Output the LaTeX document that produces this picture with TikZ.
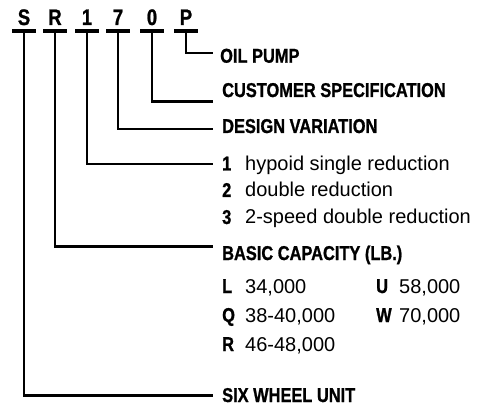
\documentclass[tikz,border=0pt]{standalone}
\usepackage{fontspec}
\setmainfont{Liberation Sans}
\newfontfamily\condbf{Liberation Sans Bold}[FakeStretch=0.82, FakeBold=1]
\usetikzlibrary{calc}
\newcommand\keyof[1]{\makebox[23pt][l]{\condbf\fontsize{20}{22}\selectfont #1}}

\begin{document}
\begin{tikzpicture}[x=1pt, y=-1pt,
	code/.style={font=\condbf\fontsize{22.5}{23}\selectfont, anchor=base, inner sep=0pt, minimum width=23pt, text depth=5.5pt},
	head/.style={font=\condbf\fontsize{20}{22}\selectfont, anchor=base west, inner sep=0pt},
	item/.style={font=\fontsize{20}{22}\selectfont, anchor=base west, inner sep=0pt},
	bar/.style={line width=3.8pt},
	lead/.style={line width=2.9pt}]
	\useasboundingbox (0,0) rectangle (490,406);

	% model code letters with their bars
	\foreach \n/\x in {S/24, R/55, 1/87, 7/118, 0/152, P/186}
	{
		\node[code] (c\n) at (\x,25) {\n};
		\draw[bar] (c\n.south west) -- (c\n.south east);
	}

	% headings
	\node[head] (hPump) at (220,62.7) {OIL PUMP};
	\node[head] (hSpec) at (222,97) {CUSTOMER SPECIFICATION};
	\node[head] (hVar) at (222,133) {DESIGN VARIATION};
	\node[head] (hCap) at (222,260) {BASIC CAPACITY (LB.)};
	\node[head] (hSix) at (222,402) {SIX WHEEL UNIT};

	% design variations
	\node[item] (v1) at (222,170.5) {\keyof{1}hypoid single reduction};
	\node[item] (v2) at (222,197) {\keyof{2}double reduction};
	\node[item] (v3) at (222,224) {\keyof{3}2-speed double reduction};

	% capacities
	\node[item] (kL) at (222,293) {\keyof{L}34,000};
	\node[item] (kQ) at (222,322) {\keyof{Q}38-40,000};
	\node[item] (kR) at (222,351) {\keyof{R}46-48,000};
	\node[item] (kU) at (376,293) {\keyof{U}58,000};
	\node[item] (kW) at (376,322) {\keyof{W}70,000};

	% leaders
	\foreach \n/\y in {P/53, 0/101.5, 7/129, 1/164, R/246.5, S/395.5}
	{
		\coordinate (e\n) at (213,\y);
		\draw[lead] (c\n.south) |- (e\n);
	}
\end{tikzpicture}
\end{document}
